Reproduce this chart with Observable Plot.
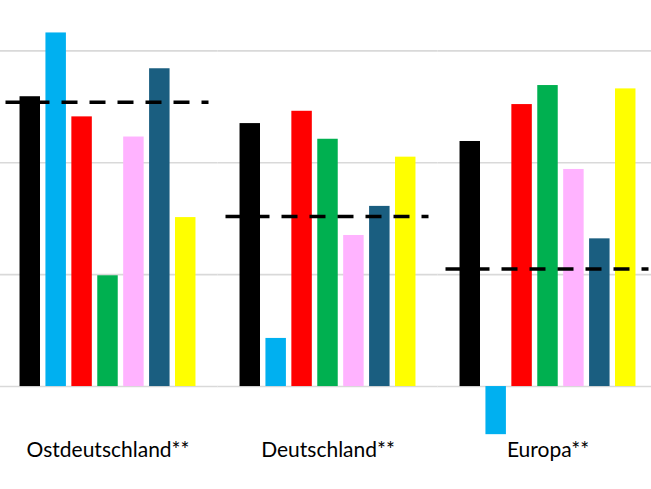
<!DOCTYPE html>
<html>
<head>
<meta charset="utf-8">
<script src="https://cdn.jsdelivr.net/npm/d3@7"></script>
<script src="https://cdn.jsdelivr.net/npm/@observablehq/plot@0.6"></script>
<style>
  html, body { margin: 0; padding: 0; background: #fff; overflow: hidden; }
  #chart { width: 651px; height: 489px; overflow: hidden; }
  #chart svg { max-width: none !important; }
</style>
</head>
<body>
<div id="chart"></div>
<script>
const groups = ["Ostdeutschland**", "Deutschland**", "Europa**"];
const series = ["S1", "S2", "S3", "S4", "S5", "S6", "S7"];
const colors = ["#000000", "#00b0f0", "#ff0000", "#00b050", "#ffb3ff", "#1a5e80", "#ffff00"];
const valuesOst = [2.59, 3.16, 2.41, 0.99, 2.23, 2.84, 1.51];
const valuesDe = [2.35, 0.43, 2.46, 2.21, 1.35, 1.61, 2.05];
const valuesEu = [2.19, -0.43, 2.52, 2.69, 1.94, 1.32, 2.66];
const averages = [2.54, 1.52, 1.05];
const gridTicks = [0, 1, 2, 3];

const allValues = [valuesOst, valuesDe, valuesEu];
const bars = groups.flatMap((g, gi) => series.map((s, si) => ({group: g, series: s, value: allValues[gi][si]})));
const avg = groups.map((g, gi) => ({group: g, value: averages[gi]}));

const chart = Plot.plot({
  width: 660,
  height: 489,
  marginLeft: -2.5,
  marginRight: 2.5,
  marginTop: 0,
  marginBottom: 47,
  style: {fontFamily: "Lato", color: "#000", background: "#fff", overflow: "visible", maxWidth: "none"},
  fx: {domain: groups, padding: 0, label: null, round: false},
  x: {domain: series, paddingInner: 0.21, paddingOuter: 0.85, axis: null, round: false},
  y: {domain: [-0.5, 3.45], axis: null},
  color: {domain: series, range: colors},
  marks: [
    Plot.ruleY(gridTicks, {stroke: "#d9d9d9", strokeWidth: 1.6}),
    Plot.barY(bars, {fx: "group", x: "series", y: "value", fill: "series"}),
    Plot.ruleY(avg, {fx: "group", y: "value", stroke: "#000", strokeWidth: 3.5, strokeDasharray: "16,12", insetLeft: 8, insetRight: 9}),
    Plot.axisFx({anchor: "bottom", tickSize: 0, tickPadding: 0, label: null, fontSize: 21, fontFamily: "Lato", fill: "#000"})
  ]
});
document.getElementById("chart").appendChild(chart);
</script>
</body>
</html>
